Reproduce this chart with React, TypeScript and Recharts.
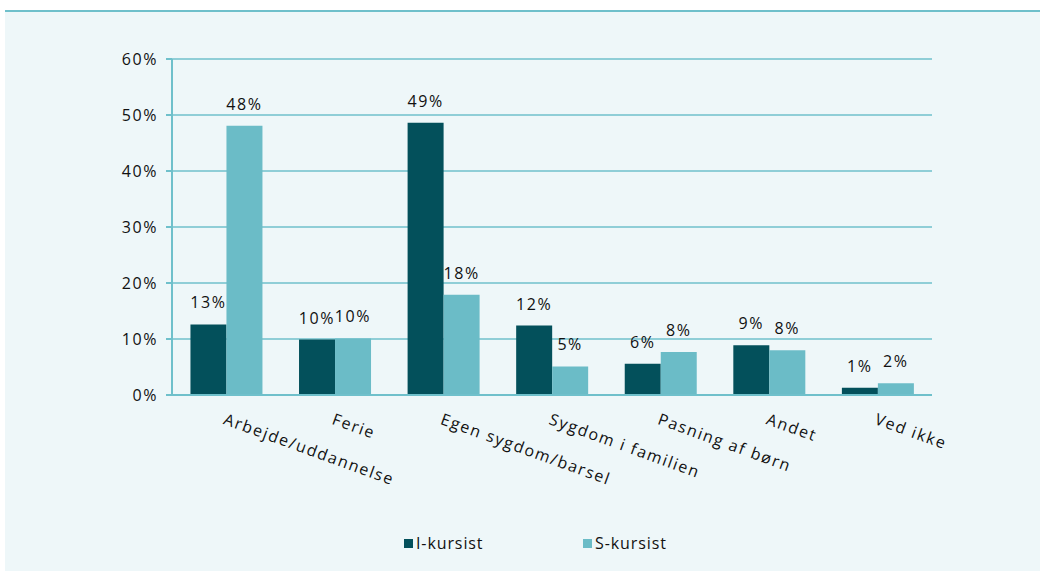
import React from 'react';
import { BarChart, Bar, XAxis, YAxis, CartesianGrid, LabelList } from 'recharts';

// categories and values (percent)
const categories = [
  'Arbejde/uddannelse',
  'Ferie',
  'Egen sygdom/barsel',
  'Sygdom i familien',
  'Pasning af børn',
  'Andet',
  'Ved ikke',
];
const iKursist = [12.6, 9.9, 48.6, 12.4, 5.6, 8.9, 1.3];
const sKursist = [48.1, 10.1, 17.9, 5.1, 7.7, 8.0, 2.1];
const seriesNames = ['I-kursist', 'S-kursist'];
const yTicks = [0, 10, 20, 30, 40, 50, 60];
const edgeTicks = [0, 1, 2, 3, 4, 5, 6, 7];

const DARK = '#03505B';
const LIGHT = '#6BBCC7';
const AXIS = '#6FC0CB';
const FONT = '"Open Sans", "DejaVu Sans", sans-serif';
const SPACING = 1.6;

const data = categories.map((name, i) => ({
  name,
  i: iKursist[i],
  s: sKursist[i],
}));

const pct = (v: any) => `${Math.round(Number(v))}%`;
const textStyle = { fill: '#111', fontSize: 16, fontFamily: FONT, letterSpacing: SPACING };

const App: React.FC = () => {
  return (
    <div style={{ position: 'absolute', left: 0, top: 0, width: 1040, height: 571, background: '#fff', fontFamily: FONT }}>
      <div
        style={{
          position: 'absolute',
          left: 5,
          top: 10,
          width: 1035,
          height: 561,
          borderTop: `2px solid ${AXIS}`,
          background: '#EEF7F9',
        }}
      >
        <BarChart
          width={1035}
          height={559}
          data={data}
          margin={{ top: 47, right: 108, left: 107, bottom: 76 }}
          barCategoryGap="17%"
          barGap={0}
        >
          <CartesianGrid vertical={false} stroke={AXIS} strokeWidth={1.5} />
          <XAxis
            xAxisId="edges"
            type="number"
            domain={[0, 7]}
            ticks={edgeTicks}
            tickFormatter={() => ''}
            tickLine={{ stroke: AXIS, strokeWidth: 2 }}
            tickSize={7}
            axisLine={false}
            height={0}
          />
          <XAxis
            dataKey="name"
            interval={0}
            height={100}
            axisLine={{ stroke: AXIS, strokeWidth: 2 }}
            tickLine={false}
            angle={20}
            textAnchor="start"
            tickMargin={12}
            tick={textStyle}
          />
          <YAxis
            width={60}
            domain={[0, 60]}
            ticks={yTicks}
            tickFormatter={(v) => `${v}%`}
            axisLine={{ stroke: AXIS, strokeWidth: 2 }}
            tickLine={{ stroke: AXIS, strokeWidth: 2 }}
            tickSize={6}
            tickMargin={8}
            tick={textStyle}
          />
          <Bar dataKey="i" name={seriesNames[0]} fill={DARK} isAnimationActive={false}>
            <LabelList dataKey="i" position="top" offset={16} formatter={pct} {...textStyle} />
          </Bar>
          <Bar dataKey="s" name={seriesNames[1]} fill={LIGHT} isAnimationActive={false}>
            <LabelList dataKey="s" position="top" offset={16} formatter={pct} {...textStyle} />
          </Bar>
        </BarChart>
      </div>
      {/* legend */}
      <div style={{ position: 'absolute', left: 404, top: 532, display: 'flex', fontSize: 16, color: '#111', letterSpacing: 0.9 }}>
        {seriesNames.map((n, k) => (
          <div key={n} style={{ display: 'flex', alignItems: 'center', width: 179 }}>
            <span style={{ width: 9, height: 9, background: k === 0 ? DARK : LIGHT, marginRight: 3 }} />
            <span>{n}</span>
          </div>
        ))}
      </div>
    </div>
  );
};

export default App;
